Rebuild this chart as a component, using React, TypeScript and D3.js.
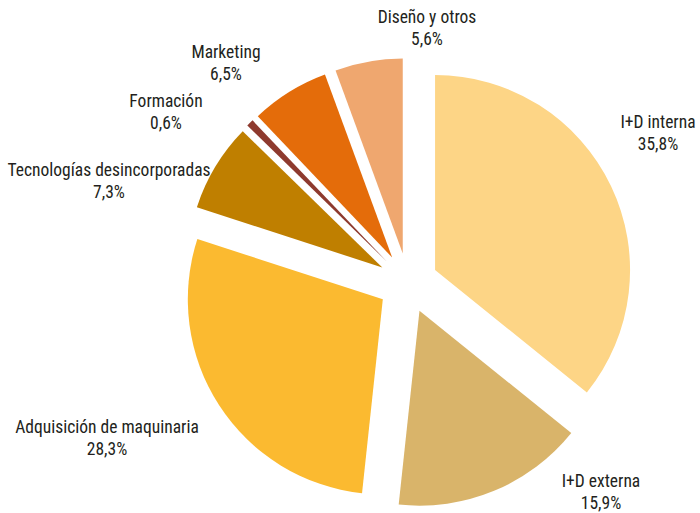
import React, { useEffect, useRef } from "react";
import * as d3 from "d3";

const categories = [
  "I+D interna",
  "I+D externa",
  "Adquisición de maquinaria",
  "Tecnologías desincorporadas",
  "Formación",
  "Marketing",
  "Diseño y otros",
];
const values = [35.8, 15.9, 28.3, 7.3, 0.6, 6.5, 5.6];
const valueLabels = ["35,8%", "15,9%", "28,3%", "7,3%", "0,6%", "6,5%", "5,6%"];
const colors = ["#FDD586", "#D9B46A", "#FBBA30", "#BF7F00", "#8E3A2E", "#E46C0A", "#EFA76F"];

// label centers (layout, not data)
const labelPositions: [number, number][] = [
  [658, 122],
  [601, 481],
  [107, 427],
  [109, 170],
  [166, 101],
  [226, 52],
  [427, 17],
];

const W = 700;
const H = 513;
const CX = 408;
const CY = 283;
const R = 195;
const OFFSET = 30;

export default function App() {
  const ref = useRef<SVGSVGElement>(null);
  useEffect(() => {
    const svg = d3.select(ref.current);
    svg.selectAll("*").remove();
    const data = categories.map((c, i) => ({ c, v: values[i], i }));
    const pie = d3.pie<any>().value((d) => d.v).sort(null);
    const arc = d3.arc<any>().innerRadius(0).outerRadius(R);
    const arcs = pie(data);
    const g = svg.append("g").attr("transform", `translate(${CX},${CY})`);
    g.selectAll("path")
      .data(arcs)
      .join("path")
      .attr("d", arc as any)
      .attr("fill", (d: any) => colors[d.data.i])
      .attr("transform", (d: any) => {
        const m = (d.startAngle + d.endAngle) / 2;
        return `translate(${OFFSET * Math.sin(m)},${-OFFSET * Math.cos(m)})`;
      });
    const lg = svg.append("g");
    arcs.forEach((d: any) => {
      const [x, y] = labelPositions[d.data.i];
      const t = lg
        .append("text")
        .attr("x", x)
        .attr("y", y)
        .attr("text-anchor", "middle")
        .attr("dominant-baseline", "central")
        .attr("font-family", "'Liberation Sans Narrow', 'Roboto Condensed', Roboto, sans-serif")
        .attr("font-size", 17.5)
        .attr("fill", "#231F20");
      t.append("tspan").attr("x", x).attr("dy", 0).text(d.data.c);
      t.append("tspan").attr("x", x).attr("dy", 22).text(valueLabels[d.data.i]);
    });
  }, []);
  return (
    <svg
      ref={ref}
      width={W}
      height={H}
      style={{ position: "absolute", left: 0, top: 0, background: "#fff" }}
    />
  );
}
